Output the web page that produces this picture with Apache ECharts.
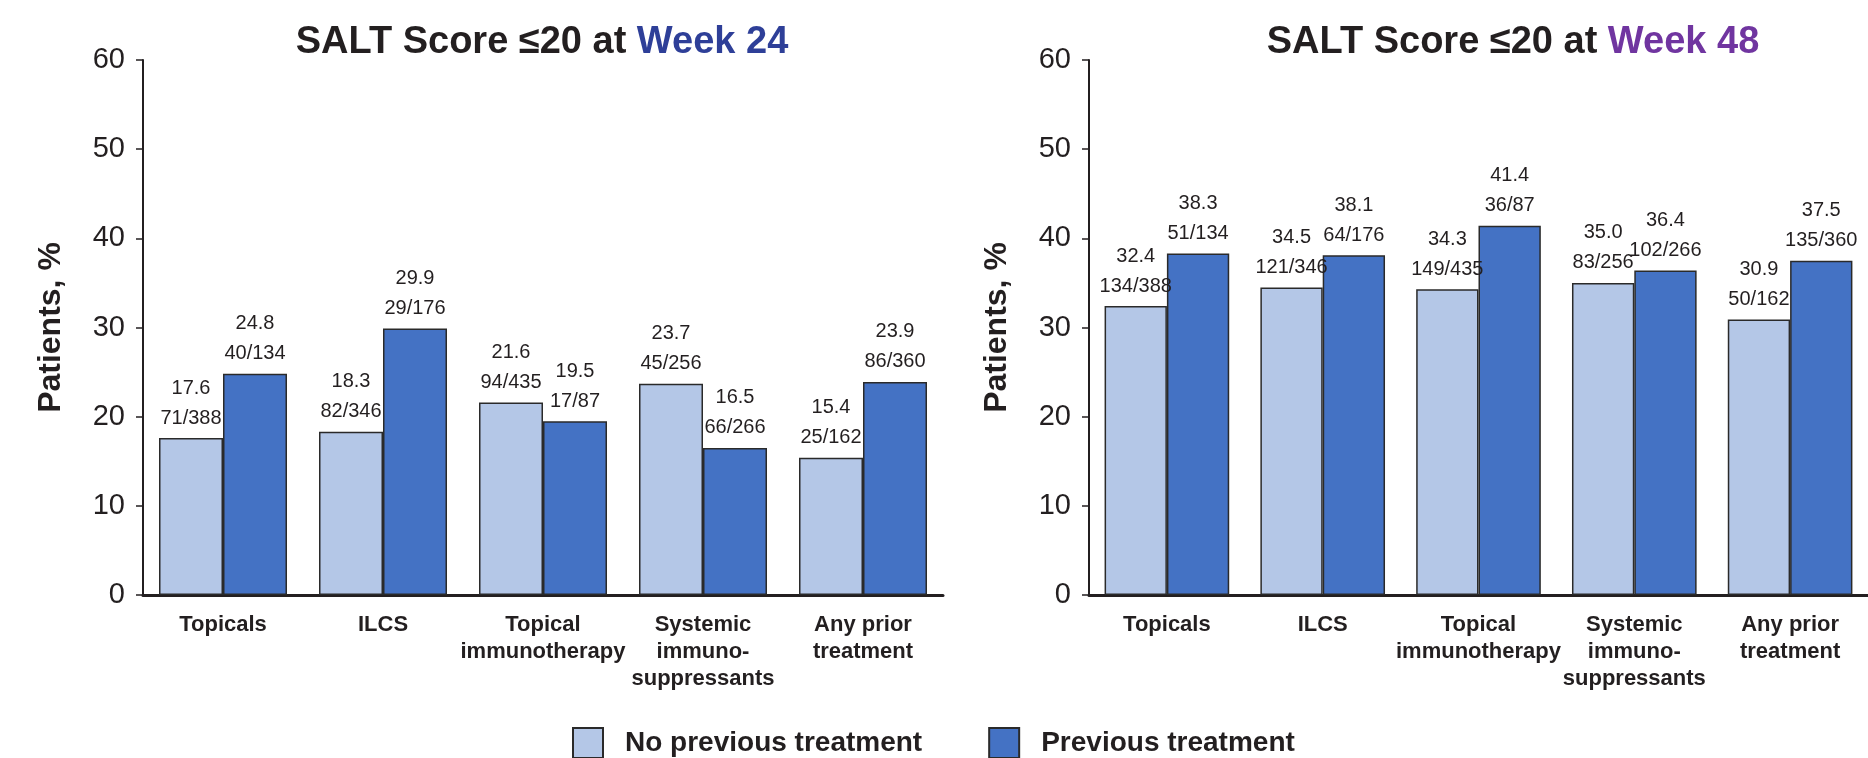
<!DOCTYPE html>
<html>
<head>
<meta charset="utf-8">
<script src="https://cdn.jsdelivr.net/npm/echarts@6/dist/echarts.min.js"></script>
<style>
html,body{margin:0;padding:0;background:#fff;}
#chart{width:1868px;height:758px;}
</style>
</head>
<body>
<div id="chart"></div>
<script>
const categories = ['Topicals', 'ILCS', 'Topical\nimmunotherapy', 'Systemic\nimmuno-\nsuppressants', 'Any prior\ntreatment'];
const seriesNames = ['No previous treatment', 'Previous treatment'];
const yTicks = [0, 10, 20, 30, 40, 50, 60];

const wk24NoPrev = [17.6, 18.3, 21.6, 23.7, 15.4];
const wk24NoPrevN = ['71/388', '82/346', '94/435', '45/256', '25/162'];
const wk24Prev = [24.8, 29.9, 19.5, 16.5, 23.9];
const wk24PrevN = ['40/134', '29/176', '17/87', '66/266', '86/360'];

const wk48NoPrev = [32.4, 34.5, 34.3, 35.0, 30.9];
const wk48NoPrevN = ['134/388', '121/346', '149/435', '83/256', '50/162'];
const wk48Prev = [38.3, 38.1, 41.4, 36.4, 37.5];
const wk48PrevN = ['51/134', '64/176', '36/87', '102/266', '135/360'];

const titles = [['SALT Score ≤20 at ', 'Week 24'], ['SALT Score ≤20 at ', 'Week 48']];

const FONT = "'Liberation Sans', Arial, Helvetica, sans-serif";
const INK = '#231F20';
const LIGHT = '#B4C7E7';
const DARK = '#4472C4';

const chart = echarts.init(document.getElementById('chart'), null, {renderer: 'canvas'});

function makeLabel(fracs) {
  return {
    show: true,
    position: 'top',
    distance: 5,
    formatter: function (p) {
      return '{v|' + Number(p.value).toFixed(1) + '}\n{f|' + fracs[p.dataIndex] + '}';
    },
    rich: {
      v: {fontSize: 20, fontFamily: FONT, color: INK, lineHeight: 30, align: 'center'},
      f: {fontSize: 20, fontFamily: FONT, color: INK, lineHeight: 30, align: 'center'}
    }
  };
}

function barSeries(name, data, fracs, color, idx) {
  return {
    name: name,
    type: 'bar',
    xAxisIndex: idx,
    yAxisIndex: idx,
    data: data,
    barGap: '0%',
    barCategoryGap: '20%',
    itemStyle: {color: color, borderColor: '#2a2a2a', borderWidth: 1.5},
    label: makeLabel(fracs),
    emphasis: {disabled: true},
    animation: false
  };
}

const grids = [
  {left: 143, top: 60, width: 800, height: 535},
  {left: 1089, top: 60, width: 800, height: 535}
];

function xAxis(idx) {
  return {
    type: 'category',
    gridIndex: idx,
    data: categories,
    axisLine: {show: true, lineStyle: {color: INK, width: 3}},
    axisTick: {show: false},
    axisLabel: {
      interval: 0,
      margin: 16,
      fontSize: 22,
      fontWeight: 'bold',
      fontFamily: FONT,
      color: INK,
      lineHeight: 27
    }
  };
}

function yAxis(idx) {
  return {
    type: 'value',
    gridIndex: idx,
    min: yTicks[0],
    max: yTicks[yTicks.length - 1],
    interval: 10,
    name: 'Patients, %',
    nameLocation: 'middle',
    nameGap: 76,
    nameTextStyle: {fontSize: 32, fontWeight: 'bold', fontFamily: FONT, color: INK},
    axisLine: {show: true, lineStyle: {color: INK, width: 2}},
    axisTick: {show: true, length: 7, lineStyle: {color: INK, width: 1.5}},
    splitLine: {show: false},
    axisLabel: {fontSize: 29, fontFamily: FONT, color: INK, margin: 18}
  };
}

const titleColors = ['#2E3F98', '#7035A0'];
const titleCenters = [542, 1513];

const option = {
  backgroundColor: '#ffffff',
  animation: false,
  title: titles.map(function (t, i) {
    return {
      text: '{a|' + t[0] + '}{b|' + t[1] + '}',
      left: titleCenters[i],
      top: 24,
      padding: 0,
      textAlign: 'center',
      textStyle: {
        rich: {
          a: {fontSize: 38, fontWeight: 'bold', fontFamily: FONT, color: INK},
          b: {fontSize: 38, fontWeight: 'bold', fontFamily: FONT, color: titleColors[i]}
        }
      }
    };
  }),
  legend: {
    data: seriesNames,
    left: 572,
    top: 727,
    padding: 0,
    icon: 'rect',
    itemWidth: 30,
    itemHeight: 30,
    itemGap: 66,
    selectedMode: false,
    textStyle: {fontSize: 28, fontWeight: 'bold', fontFamily: FONT, color: INK, padding: [0, 0, 0, 17]}
  },
  grid: grids,
  xAxis: [xAxis(0), xAxis(1)],
  yAxis: [yAxis(0), yAxis(1)],
  series: [
    barSeries(seriesNames[0], wk24NoPrev, wk24NoPrevN, LIGHT, 0),
    barSeries(seriesNames[1], wk24Prev, wk24PrevN, DARK, 0),
    barSeries(seriesNames[0], wk48NoPrev, wk48NoPrevN, LIGHT, 1),
    barSeries(seriesNames[1], wk48Prev, wk48PrevN, DARK, 1)
  ]
};

chart.setOption(option);
</script>
</body>
</html>
